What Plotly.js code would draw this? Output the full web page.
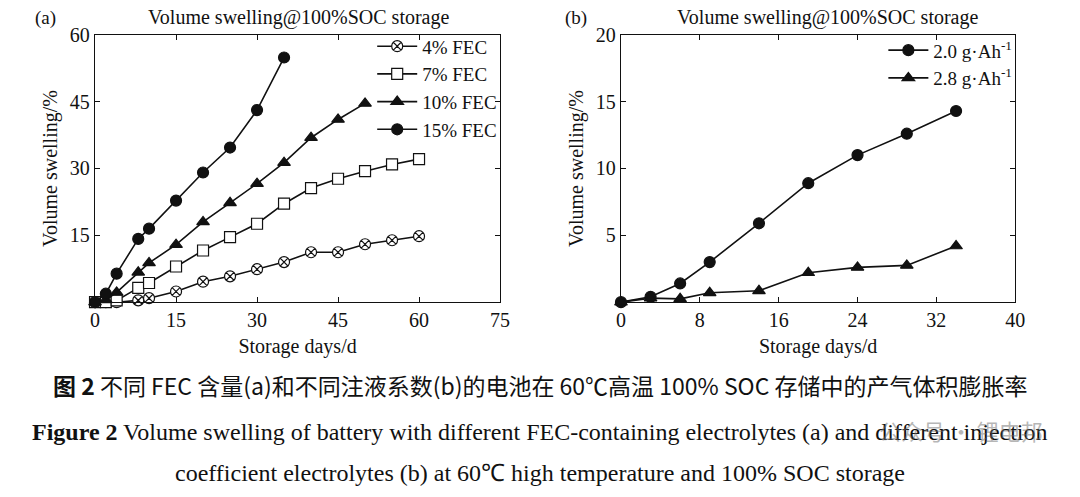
<!DOCTYPE html>
<html>
<head>
<meta charset="utf-8">
<script src="https://cdn.plot.ly/plotly-3.0.1.min.js"></script>
<style>
  html, body { margin: 0; padding: 0; background: #fff; }
  #chart { width: 1080px; height: 497px; }
</style>
</head>
<body>
<div id="chart"></div>
<script>
// panel (a): swelling vs storage days for FEC content
const daysA      = [0, 2, 4, 8, 10, 15, 20, 25, 30, 35, 40, 45, 50, 55, 60];
const fec4       = [0, 0, 0, 0.4, 0.9, 2.4, 4.6, 5.8, 7.4, 9.0, 11.2, 11.2, 13.0, 13.9, 14.8];
const fec7       = [0, 0, 0.4, 3.2, 4.3, 8.0, 11.6, 14.6, 17.6, 22.1, 25.6, 27.7, 29.4, 30.9, 32.1];
const daysA10    = [0, 2, 4, 8, 10, 15, 20, 25, 30, 35, 40, 45, 50];
const fec10      = [0, 0.5, 2.2, 6.7, 8.8, 12.9, 18.0, 22.3, 26.6, 31.3, 36.9, 41.0, 44.6];
const daysA15    = [0, 2, 4, 8, 10, 15, 20, 25, 30, 35];
const fec15      = [0, 1.9, 6.4, 14.2, 16.5, 22.8, 29.1, 34.7, 43.1, 54.9];

// panel (b): swelling vs storage days for injection coefficient
const daysB      = [0, 3, 6, 9, 14, 19, 24, 29, 34];
const inj20      = [0, 0.4, 1.4, 3.0, 5.9, 8.9, 11.0, 12.6, 14.3];
const inj28      = [0, 0.3, 0.25, 0.7, 0.85, 2.2, 2.6, 2.75, 4.2];

const ticksA_x = [0, 15, 30, 45, 60, 75];
const ticksA_y = [15, 30, 45, 60];
const ticksB_x = [0, 8, 16, 24, 32, 40];
const ticksB_y = [5, 10, 15, 20];

const SERIF = "'Liberation Serif', 'Times New Roman', serif";
const CJK = "'Noto Sans CJK SC', sans-serif";
const INK = '#111';

function series(x, y, name, symbol, fill, xa, ya, legend) {
  return {
    x, y, name,
    type: 'scatter', mode: 'lines+markers',
    xaxis: xa, yaxis: ya, legend,
    line: { color: INK, width: 1.6 },
    marker: { symbol, size: 11, color: fill, line: { color: INK, width: 1.2 } },
    cliponaxis: false,
  };
}

const traces = [
  series(daysA,   fec4,  '4% FEC',  'circle-x', '#fff', 'x', 'y', 'legend'),
  series(daysA,   fec7,  '7% FEC',  'square',   '#fff', 'x', 'y', 'legend'),
  series(daysA10, fec10, '10% FEC', 'triangle-up', INK, 'x', 'y', 'legend'),
  series(daysA15, fec15, '15% FEC', 'circle',   INK,    'x', 'y', 'legend'),
  series(daysB,   inj20, '2.0 g·Ah<sup>-1</sup>', 'circle', INK, 'x2', 'y2', 'legend2'),
  series(daysB,   inj28, '2.8 g·Ah<sup>-1</sup>', 'triangle-up', INK, 'x2', 'y2', 'legend2'),
];

const axisBase = {
  showgrid: false, zeroline: false,
  showline: true, linecolor: INK, linewidth: 1.2, mirror: 'ticks',
  ticks: 'inside', ticklen: 5, tickcolor: INK, tickwidth: 1,
  tickfont: { family: SERIF, size: 20, color: INK },
  fixedrange: true,
};

function xAxis(domain, range, tickvals, anchor) {
  return Object.assign({}, axisBase, {
    domain, range, tickvals, anchor,
    title: { text: 'Storage days/d', font: { family: SERIF, size: 20, color: INK }, standoff: 8 },
  });
}
function yAxis(domain, range, tickvals, anchor) {
  return Object.assign({}, axisBase, {
    domain, range, tickvals, anchor,
    title: { text: 'Volume swelling/%', font: { family: SERIF, size: 20, color: INK }, standoff: 6 },
  });
}

const yDom = [0.392, 0.930];

const legendBase = {
  bgcolor: 'rgba(0,0,0,0)', borderwidth: 0,
  font: { family: SERIF, size: 19, color: INK },
  xanchor: 'right', yanchor: 'top',
  tracegroupgap: 0, itemwidth: 40,
};

function note(text, x, y, size, family, xanchor) {
  return {
    text, x, y, xref: 'paper', yref: 'paper',
    xanchor: xanchor || 'center', yanchor: 'middle', showarrow: false,
    font: { family, size, color: INK },
  };
}

const layout = {
  width: 1080, height: 497,
  margin: { t: 0, r: 0, b: 0, l: 0 },
  paper_bgcolor: '#fff', plot_bgcolor: '#fff',
  font: { family: SERIF, color: INK },
  xaxis:  xAxis([0.088, 0.463], [0, 75], ticksA_x, 'y'),
  yaxis:  yAxis(yDom, [0, 60], ticksA_y, 'x'),
  xaxis2: xAxis([0.575, 0.940], [0, 40], ticksB_x, 'y2'),
  yaxis2: yAxis(yDom, [0, 20], ticksB_y, 'x2'),
  legend:  Object.assign({}, legendBase, { x: 0.465, y: 0.945 }),
  legend2: Object.assign({}, legendBase, { x: 0.942, y: 0.937 }),
  annotations: [
    note('(a)', 0.042, 0.964, 19, SERIF),
    note('Volume swelling@100%SOC storage', 0.276, 0.964, 20, SERIF),
    note('(b)', 0.533, 0.964, 19, SERIF),
    note('Volume swelling@100%SOC storage', 0.766, 0.964, 20, SERIF),
    note('<b>图 2</b> 不同 FEC 含量(a)和不同注液系数(b)的电池在 60℃高温 100% SOC 存储中的产气体积膨胀率',
      0.5, 0.225, 23, CJK),
    note('<b>Figure 2</b> Volume swelling of battery with different FEC-containing electrolytes (a) and different injection',
      0.5, 0.130, 24, SERIF),
    note('coefficient electrolytes (b) at 60℃ high temperature and 100% SOC storage',
      0.5, 0.048, 24, SERIF),
    {
      text: '公众号 · 锂电邦', x: 0.968, y: 0.135, xref: 'paper', yref: 'paper',
      xanchor: 'right', yanchor: 'middle', showarrow: false,
      font: { family: CJK, size: 22, color: 'rgba(110,110,110,0.5)' },
    },
  ],
};

Plotly.newPlot('chart', traces, layout, { displayModeBar: false, staticPlot: true });
</script>
</body>
</html>
